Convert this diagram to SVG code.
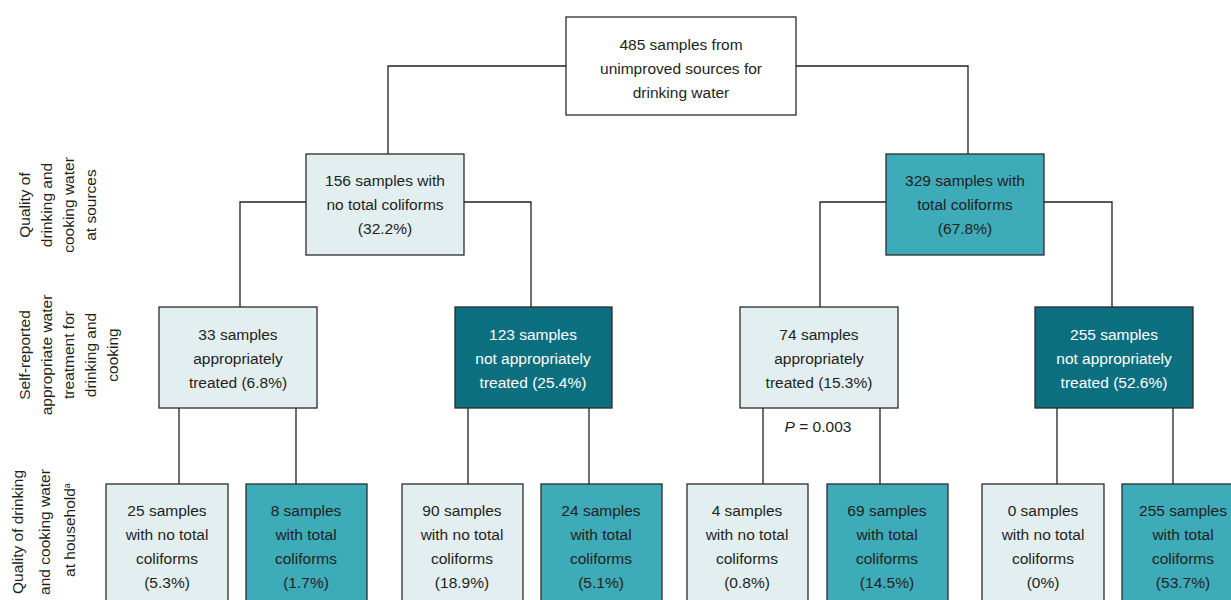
<svg xmlns="http://www.w3.org/2000/svg" width="1231" height="600" viewBox="0 0 1231 600">
<style>
text{font-family:"Liberation Sans",Arial,sans-serif;font-size:15.5px;fill:#231f20;text-anchor:middle}
.w{fill:#ffffff}
.box{stroke:#2b2b2b;stroke-width:1.3}
.l{fill:#e3eef0}.m{fill:#3eabb9}.d{fill:#0b6f80}.n{fill:#ffffff}
#connectors path{fill:none;stroke:#231f20;stroke-width:1.3}
</style>
<rect width="1231" height="600" fill="#ffffff"/>
<g id="connectors">
<path d="M566 66H388V154M796 66H968V154"/>
<path d="M306 202H240V307M464 202H531V307"/>
<path d="M886 202H820V307M1044 202H1112V307"/>
<path d="M179 408V484M296 408V484M468 408V484M589 408V484M763 408V484M880 408V484M1057 408V484M1173 408V484"/>
</g>
<g id="axis-labels">
<text transform="rotate(-90 30 205)" x="30" y="205">Quality of</text>
<text transform="rotate(-90 52 205)" x="52" y="205">drinking and</text>
<text transform="rotate(-90 74 205)" x="74" y="205">cooking water</text>
<text transform="rotate(-90 96 205)" x="96" y="205">at sources</text>
<text transform="rotate(-90 30 355)" x="30" y="355">Self-reported</text>
<text transform="rotate(-90 52 355)" x="52" y="355">appropriate water</text>
<text transform="rotate(-90 74 355)" x="74" y="355">treatment for</text>
<text transform="rotate(-90 96 355)" x="96" y="355">drinking and</text>
<text transform="rotate(-90 118 355)" x="118" y="355">cooking</text>
<text transform="rotate(-90 23 532)" x="23" y="532">Quality of drinking</text>
<text transform="rotate(-90 50 532)" x="50" y="532">and cooking water</text>
<text transform="rotate(-90 75 530)" x="75" y="530">at household<tspan dy="-5" font-size="9">a</tspan></text>
</g>
<g id="n-root"><rect class="box n" x="566" y="17" width="230" height="98"/>
<text x="681" y="50">485 samples from</text><text x="681" y="74">unimproved sources for</text><text x="681" y="98">drinking water</text></g>
<g id="n-156"><rect class="box l" x="306" y="154" width="158" height="101"/>
<text x="385" y="186">156 samples with</text><text x="385" y="210">no total coliforms</text><text x="385" y="234">(32.2%)</text></g>
<g id="n-329"><rect class="box m" x="886" y="154" width="158" height="101"/>
<text x="965" y="186">329 samples with</text><text x="965" y="210">total coliforms</text><text x="965" y="234">(67.8%)</text></g>
<g id="n-33"><rect class="box l" x="159" y="307" width="158" height="101"/>
<text x="238" y="340">33 samples</text><text x="238" y="364">appropriately</text><text x="238" y="388">treated (6.8%)</text></g>
<g id="n-123"><rect class="box d" x="455" y="307" width="157" height="101"/>
<text class="w" x="533" y="340">123 samples</text><text class="w" x="533" y="364">not appropriately</text><text class="w" x="533" y="388">treated (25.4%)</text></g>
<g id="n-74"><rect class="box l" x="740" y="307" width="158" height="101"/>
<text x="819" y="340">74 samples</text><text x="819" y="364">appropriately</text><text x="819" y="388">treated (15.3%)</text></g>
<g id="n-255a"><rect class="box d" x="1035" y="307" width="158" height="101"/>
<text class="w" x="1114" y="340">255 samples</text><text class="w" x="1114" y="364">not appropriately</text><text class="w" x="1114" y="388">treated (52.6%)</text></g>
<g id="p-value"><text x="818" y="432"><tspan font-style="italic">P</tspan> = 0.003</text></g>
<g id="n-25"><rect class="box l" x="106" y="484" width="122" height="130"/>
<text x="167" y="516">25 samples</text><text x="167" y="540">with no total</text><text x="167" y="564">coliforms</text><text x="167" y="588">(5.3%)</text></g>
<g id="n-8"><rect class="box m" x="246" y="484" width="121" height="130"/>
<text x="306" y="516">8 samples</text><text x="306" y="540">with total</text><text x="306" y="564">coliforms</text><text x="306" y="588">(1.7%)</text></g>
<g id="n-90"><rect class="box l" x="402" y="484" width="121" height="130"/>
<text x="462" y="516">90 samples</text><text x="462" y="540">with no total</text><text x="462" y="564">coliforms</text><text x="462" y="588">(18.9%)</text></g>
<g id="n-24"><rect class="box m" x="541" y="484" width="121" height="130"/>
<text x="601" y="516">24 samples</text><text x="601" y="540">with total</text><text x="601" y="564">coliforms</text><text x="601" y="588">(5.1%)</text></g>
<g id="n-4"><rect class="box l" x="687" y="484" width="121" height="130"/>
<text x="747" y="516">4 samples</text><text x="747" y="540">with no total</text><text x="747" y="564">coliforms</text><text x="747" y="588">(0.8%)</text></g>
<g id="n-69"><rect class="box m" x="827" y="484" width="121" height="130"/>
<text x="887" y="516">69 samples</text><text x="887" y="540">with total</text><text x="887" y="564">coliforms</text><text x="887" y="588">(14.5%)</text></g>
<g id="n-0"><rect class="box l" x="982" y="484" width="122" height="130"/>
<text x="1043" y="516">0 samples</text><text x="1043" y="540">with no total</text><text x="1043" y="564">coliforms</text><text x="1043" y="588">(0%)</text></g>
<g id="n-255b"><rect class="box m" x="1122" y="484" width="122" height="130"/>
<text x="1183" y="516">255 samples</text><text x="1183" y="540">with total</text><text x="1183" y="564">coliforms</text><text x="1183" y="588">(53.7%)</text></g>
</svg>
